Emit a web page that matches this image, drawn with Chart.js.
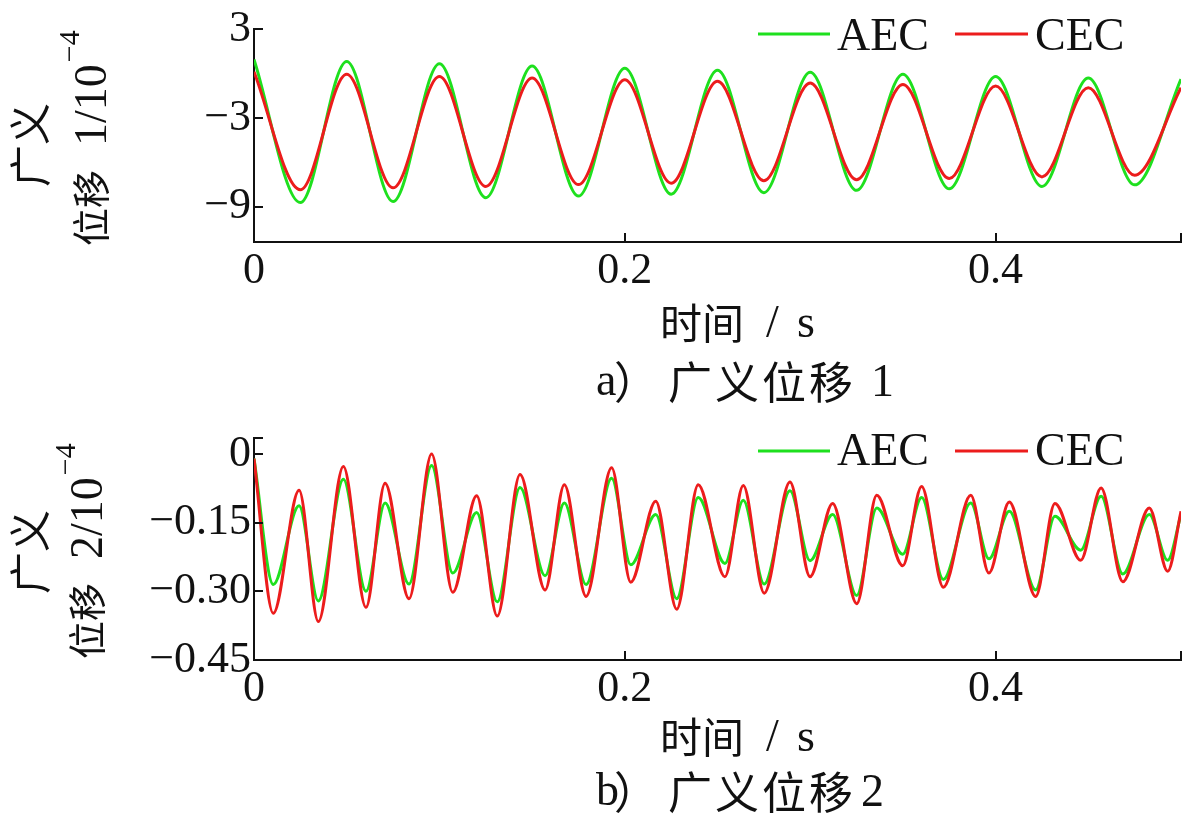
<!DOCTYPE html>
<html><head><meta charset="utf-8">
<script src="https://cdn.jsdelivr.net/npm/chart.js@4/dist/chart.umd.min.js"></script>
<style>
html,body{margin:0;padding:0;background:#fff;}
#wrap{position:relative;width:1200px;height:814px;overflow:hidden;background:#fff;}
canvas{position:absolute;left:0;}
</style></head><body>
<div id="wrap">
<canvas id="c1" width="1200" height="407" style="top:0px"></canvas>
<canvas id="c2" width="1200" height="407" style="top:407px"></canvas>
</div>
<script>
// ---------- data ----------
const seriesNames = ['AEC', 'CEC'];
const seriesColors = ['#1ee01e', '#ec1c1c'];

// a) generalized displacement 1 (unit 1e-4)
const topTime = [0, 0.025, 0.05, 0.075, 0.1, 0.125, 0.15, 0.175, 0.2, 0.225, 0.25,
                 0.275, 0.3, 0.325, 0.35, 0.375, 0.4, 0.425, 0.45, 0.475, 0.5];
const topAEC = [0.96, -8.73, 0.83, -8.66, 0.67, -8.40, 0.52, -8.29, 0.37, -8.16, 0.24,
                -8.06, 0.09, -7.90, -0.04, -7.80, -0.19, -7.64, -0.30, -7.53, -0.37];
const topCEC = [0.13, -7.86, -0.04, -7.73, -0.19, -7.64, -0.30, -7.51, -0.41, -7.42, -0.52,
                -7.25, -0.63, -7.18, -0.73, -7.10, -0.84, -6.99, -0.95, -6.88, -0.95];

// b) generalized displacement 2 (unit 1e-4)
const botTime = [0, 0.0104, 0.0243, 0.0347, 0.0482, 0.0604, 0.0707, 0.0836, 0.0958, 0.1072,
                 0.1201, 0.1312, 0.1435, 0.1570, 0.1674, 0.1791, 0.1929, 0.2032, 0.2167, 0.2280,
                 0.2396, 0.2540, 0.2639, 0.2752, 0.2891, 0.2999, 0.3121, 0.3251, 0.3359, 0.3499,
                 0.3601, 0.3718, 0.3866, 0.3964, 0.4074, 0.4216, 0.4320, 0.4459, 0.4569, 0.4686,
                 0.4829, 0.4928, 0.5];
const botAEC = [-0.010, -0.285, -0.113, -0.321, -0.055, -0.300, -0.107, -0.284, -0.025, -0.260,
                -0.128, -0.323, -0.073, -0.266, -0.107, -0.285, -0.053, -0.242, -0.132, -0.316,
                -0.095, -0.239, -0.101, -0.284, -0.080, -0.233, -0.132, -0.309, -0.118, -0.219,
                -0.095, -0.274, -0.107, -0.229, -0.125, -0.297, -0.136, -0.210, -0.092, -0.262,
                -0.132, -0.232, -0.132];
const botCEC = [-0.010, -0.348, -0.079, -0.366, -0.027, -0.335, -0.064, -0.316, 0.000, -0.302,
                -0.091, -0.354, -0.045, -0.297, -0.067, -0.311, -0.030, -0.280, -0.103, -0.339,
                -0.067, -0.268, -0.069, -0.304, -0.061, -0.268, -0.108, -0.327, -0.090, -0.244,
                -0.071, -0.291, -0.090, -0.260, -0.105, -0.311, -0.108, -0.232, -0.074, -0.279,
                -0.118, -0.256, -0.125];

// ticks
const xTicks = [0, 0.2, 0.4];
const xTickLabels = ['0', '0.2', '0.4'];
const topYTicks = [3, -3, -9];
const topYTickLabels = ['3', '\u22123', '\u22129'];
const botYTicks = [0, -0.15, -0.30, -0.45];
const botYTickLabels = ['0', '\u22120.15', '\u22120.30', '\u22120.45'];

// texts
const xTitleCJK = '时间';
const xTitleUnit = ['/', 's'];
const yTitleLine1 = '广义';
const yTitleCJK = '位移';
const topYTitleNum = '1/10';
const botYTitleNum = '2/10';
const yTitleSup = '\u22124';
const topCaption = ['a', '）', '广义位移', '1'];
const botCaption = ['b', '）', '广义位移', '2'];

// ---------- drawing ----------
const SERIF = "'Liberation Serif', 'Times New Roman', serif";
const CJK = "'Noto Sans CJK SC', 'Noto Sans CJK JP', sans-serif";
const INK = '#111';

function decor(o) {
  return {
    id: 'decor',
    afterDraw(chart) {
      const ctx = chart.ctx, ca = chart.chartArea;
      const xs = chart.scales.x, ys = chart.scales.y;
      ctx.save();
      // inward tick marks
      ctx.strokeStyle = INK; ctx.lineWidth = 2;
      xTicks.concat([xs.max]).forEach(v => {
        const px = Math.round(xs.getPixelForValue(v));
        ctx.beginPath(); ctx.moveTo(px, ca.bottom); ctx.lineTo(px, ca.bottom - 9); ctx.stroke();
      });
      o.yTicks.concat([ys.max]).forEach(v => {
        const py = Math.round(ys.getPixelForValue(v));
        ctx.beginPath(); ctx.moveTo(ca.left, py); ctx.lineTo(ca.left + 9, py); ctx.stroke();
      });
      // legend
      const lx = [[758, 830], [955, 1028]];
      chart.data.datasets.forEach((ds, i) => {
        ctx.strokeStyle = ds.borderColor; ctx.lineWidth = 3;
        ctx.beginPath(); ctx.moveTo(lx[i][0], o.legendY); ctx.lineTo(lx[i][1], o.legendY); ctx.stroke();
        ctx.fillStyle = INK; ctx.font = '46px ' + SERIF;
        ctx.textAlign = 'left'; ctx.textBaseline = 'alphabetic';
        ctx.fillText(ds.label, lx[i][1] + 7, o.legendBase);
      });
      // y title
      ctx.fillStyle = INK; ctx.textBaseline = 'middle';
      ctx.save();
      ctx.translate(o.y1x, o.y1y); ctx.rotate(-Math.PI / 2);
      ctx.font = '42px ' + CJK; ctx.textAlign = 'center';
      ctx.fillText(yTitleLine1, 0, 0);
      ctx.restore();
      ctx.save();
      ctx.translate(o.y2x, o.y2y); ctx.rotate(-Math.PI / 2);
      ctx.textAlign = 'left';
      ctx.font = '38px ' + CJK;
      ctx.fillText(yTitleCJK, 0, 0);
      let u = ctx.measureText(yTitleCJK).width + 24;
      ctx.font = '46px ' + SERIF;
      ctx.fillText(o.yNum, u, 3);
      u += ctx.measureText(o.yNum).width + 2;
      ctx.font = '30px ' + SERIF;
      ctx.fillText(yTitleSup, u, -20);
      ctx.restore();
      // x title
      ctx.textAlign = 'left'; ctx.textBaseline = 'middle';
      ctx.font = '42px ' + CJK;
      ctx.fillText(xTitleCJK, 660, o.xTitleY);
      ctx.font = '46px ' + SERIF;
      ctx.fillText(xTitleUnit[0], 766, o.xTitleY + 2);
      ctx.fillText(xTitleUnit[1], 797, o.xTitleY + 2);
      // caption
      const c = o.caption;
      ctx.font = '46px ' + SERIF;
      ctx.fillText(c[0], 596, o.capY + 1);
      ctx.font = '44px ' + CJK;
      ctx.fillText(c[1], 614, o.capY);
      ctx.letterSpacing = '3px';
      ctx.fillText(c[2], 668, o.capY);
      ctx.letterSpacing = '0px';
      ctx.font = '46px ' + SERIF;
      ctx.fillText(c[3], o.capNumX, o.capY + 2);
      ctx.restore();
    }
  };
}

function build(id, o) {
  const mk = (arr) => o.t.map((t, i) => ({ x: t, y: arr[i] }));
  const lbl = (ticks, labels) => (v) => {
    const i = ticks.findIndex(t => Math.abs(t - v) < 1e-9);
    return i >= 0 ? labels[i] : '';
  };
  return new Chart(document.getElementById(id), {
    type: 'line',
    data: {
      datasets: [
        { label: seriesNames[0], data: mk(o.a), borderColor: seriesColors[0], backgroundColor: seriesColors[0],
          borderWidth: 3, pointRadius: 0, fill: false, cubicInterpolationMode: 'monotone', order: 2 },
        { label: seriesNames[1], data: mk(o.c), borderColor: seriesColors[1], backgroundColor: seriesColors[1],
          borderWidth: 3, pointRadius: 0, fill: false, cubicInterpolationMode: 'monotone', order: 1 }
      ]
    },
    options: {
      responsive: false, animation: false, devicePixelRatio: 1,
      layout: { padding: { left: 0, right: 19, top: o.padTop, bottom: 0 } },
      plugins: { legend: { display: false }, tooltip: { enabled: false } },
      scales: {
        x: {
          type: 'linear', min: 0, max: 0.5,
          afterFit(s) { s.height = o.xh; },
          afterBuildTicks(s) { s.ticks = xTicks.map(v => ({ value: v })); },
          ticks: { callback: lbl(xTicks, xTickLabels), font: { family: SERIF, size: 44 }, color: INK,
                   padding: 3, maxRotation: 0, autoSkip: false },
          grid: { display: false, drawTicks: false },
          border: { display: true, color: INK, width: 2 }
        },
        y: {
          type: 'linear', min: o.ymin, max: o.ymax,
          afterFit(s) { s.width = 254; },
          afterBuildTicks(s) { s.ticks = o.yTicks.slice().sort((a, b) => a - b).map(v => ({ value: v })); },
          ticks: { callback: lbl(o.yTicks, o.yLabels), font: { family: SERIF, size: 44 }, color: INK,
                   padding: 3, autoSkip: false },
          grid: { display: false, drawTicks: false },
          border: { display: true, color: INK, width: 2 }
        }
      }
    },
    plugins: [decor(o)]
  });
}

build('c1', {
  t: topTime, a: topAEC, c: topCEC, ymin: -11.4, ymax: 3, yTicks: topYTicks, yLabels: topYTickLabels,
  padTop: 21, xh: 165, legendY: 34, legendBase: 50,
  y1x: 30, y1y: 145, y2x: 91, y2y: 246, yNum: topYTitleNum,
  xTitleY: 323, caption: topCaption, capY: 382, capNumX: 871
});
build('c2', {
  t: botTime, a: botAEC, c: botCEC, ymin: -0.45, ymax: 0.035, yTicks: botYTicks, yLabels: botYTickLabels,
  padTop: 31, xh: 154, legendY: 44, legendBase: 58,
  y1x: 30, y1y: 145, y2x: 87, y2y: 252, yNum: botYTitleNum,
  xTitleY: 330, caption: botCaption, capY: 385, capNumX: 861
});
</script>
</body></html>
